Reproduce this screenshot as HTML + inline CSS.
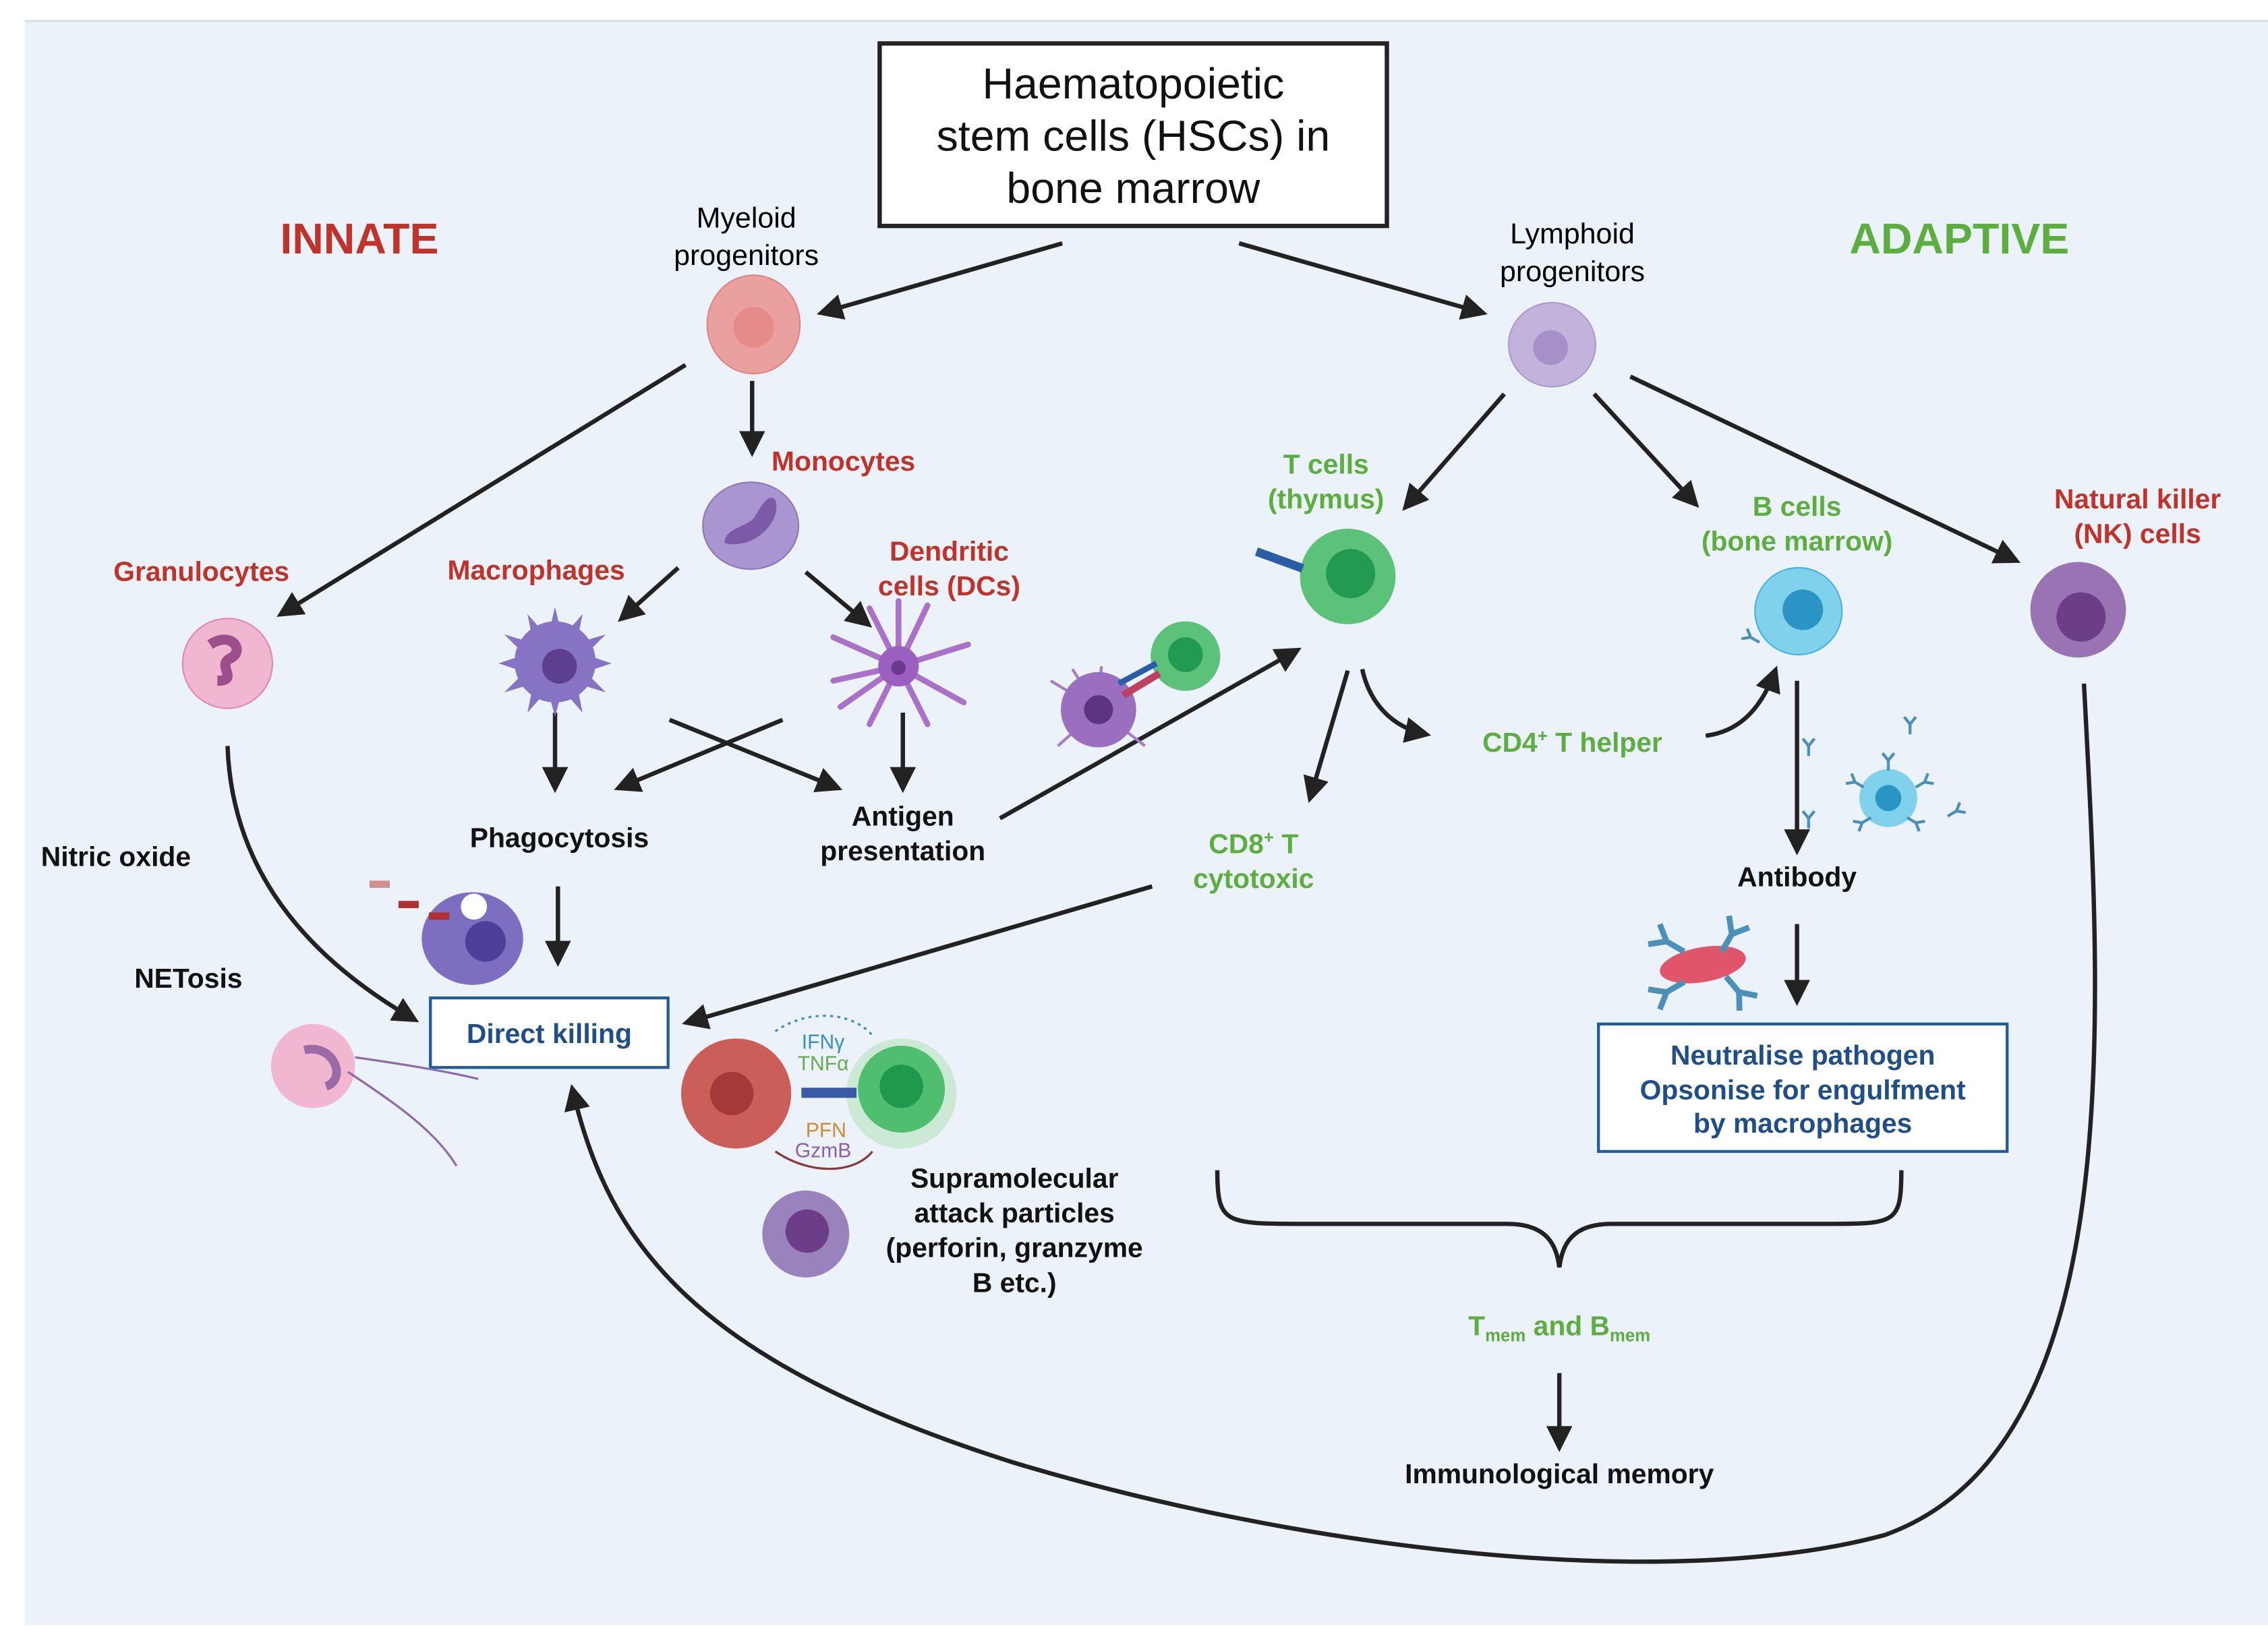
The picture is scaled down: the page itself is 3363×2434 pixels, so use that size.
<!DOCTYPE html>
<html><head><meta charset="utf-8"><style>
html,body{margin:0;padding:0;background:#fff}
svg{display:block}
text{font-family:"Liberation Sans",sans-serif}
.b{font-weight:bold;font-size:19px;text-anchor:middle}
.r{fill:#c0332b}.g{fill:#5cae3f}.k{fill:#111}.bl{fill:#1f4e89}
</style></head><body>
<svg width="3363" height="2434" viewBox="0 0 1565 1133" preserveAspectRatio="none" xmlns="http://www.w3.org/2000/svg">
<defs>
<marker id="a" viewBox="0 0 10 10" refX="8" refY="5" markerWidth="6" markerHeight="6" orient="auto-start-reverse"><path d="M0,0 L10,5 L0,10 z" fill="#222"/></marker>
<g id="y"><path d="M0,0 L0,7 M0,0 L-4,-5 M0,0 L4,-5" stroke="#4a90b8" stroke-width="2" fill="none"/></g>
</defs>
<rect x="0" y="0" width="1565" height="1133" fill="#fff"/>
<rect x="17" y="14" width="1548" height="1108" fill="#ecf2fa"/>
<line x1="17" y1="14.5" x2="1565" y2="14.5" stroke="#d8dde3" stroke-width="1.5"/>
<rect x="607" y="30" width="350" height="126" fill="#fff" stroke="#222" stroke-width="3"/>
<text x="782" y="68" font-size="30" text-anchor="middle" class="k">Haematopoietic</text>
<text x="782" y="104" font-size="30" text-anchor="middle" class="k">stem cells (HSCs) in</text>
<text x="782" y="140" font-size="30" text-anchor="middle" class="k">bone marrow</text>
<text x="248" y="175" font-size="30" font-weight="bold" text-anchor="middle" class="r">INNATE</text>
<text x="1352" y="175" font-size="30" font-weight="bold" text-anchor="middle" class="g">ADAPTIVE</text>
<text x="515" y="157" font-size="20" text-anchor="middle">Myeloid</text>
<text x="515" y="183" font-size="20" text-anchor="middle">progenitors</text>
<text x="1085" y="168" font-size="20" text-anchor="middle">Lymphoid</text>
<text x="1085" y="194" font-size="20" text-anchor="middle">progenitors</text>
<ellipse cx="520" cy="224" rx="32" ry="34" fill="#eba0a0" stroke="#e08585"/><ellipse cx="520" cy="226" rx="14" ry="14" fill="#e78a8a"/>
<ellipse cx="1071" cy="238" rx="30" ry="29" fill="#c2b3dc" stroke="#ab9acb"/><circle cx="1070" cy="240" r="12" fill="#a590c8"/>
<g stroke="#222" stroke-width="3" fill="none" marker-end="url(#a)">
<line x1="733" y1="168" x2="567" y2="216"/>
<line x1="855" y1="168" x2="1023" y2="216"/>
<line x1="473" y1="252" x2="194" y2="424"/>
<line x1="519" y1="263" x2="519" y2="312"/>
<line x1="1038" y1="272" x2="970" y2="350"/>
<line x1="1100" y1="272" x2="1170" y2="348"/>
<line x1="1125" y1="260" x2="1391" y2="387"/>
<line x1="468" y1="392" x2="429" y2="427"/>
<line x1="556" y1="395" x2="599" y2="431"/>
<line x1="383" y1="492" x2="383" y2="544"/>
<line x1="623" y1="492" x2="623" y2="544"/>
<line x1="462" y1="497" x2="578" y2="544"/>
<line x1="540" y1="497" x2="427" y2="544"/>
<line x1="385" y1="612" x2="385" y2="664"/>
<path d="M157,515 C160,600 210,660 286,704"/>
<line x1="690" y1="565" x2="895" y2="449"/>
<line x1="930" y1="463" x2="904" y2="551"/>
<path d="M940,462 C945,485 960,502 984,507"/>
<path d="M1177,508 C1200,505 1215,490 1225,463"/>
<line x1="795" y1="612" x2="474" y2="706"/>
<line x1="1240" y1="470" x2="1240" y2="587"/>
<line x1="1240" y1="638" x2="1240" y2="691"/>
<line x1="1076" y1="948" x2="1076" y2="999"/>
<path d="M1438,472 C1450,700 1470,1000 1300,1060 C1150,1100 900,1070 700,1010 C480,940 420,860 395,752"/>
</g>
<path d="M840,808 C840,845 845,845 900,845 L1040,845 C1068,845 1074,860 1076,875 C1078,860 1084,845 1112,845 L1260,845 C1308,845 1312,845 1312,808" fill="none" stroke="#222" stroke-width="3"/>
<text x="582" y="325" class="b r">Monocytes</text>
<text x="370" y="400" class="b r">Macrophages</text>
<text x="655" y="387" class="b r">Dendritic</text><text x="655" y="411" class="b r">cells (DCs)</text>
<text x="139" y="401" class="b r">Granulocytes</text>
<text x="915" y="327" class="b g">T cells</text><text x="915" y="351" class="b g">(thymus)</text>
<text x="1240" y="356" class="b g">B cells</text><text x="1240" y="380" class="b g">(bone marrow)</text>
<text x="1475" y="351" class="b r">Natural killer</text><text x="1475" y="375" class="b r">(NK) cells</text>
<text x="386" y="585" class="b k">Phagocytosis</text>
<text x="623" y="570" class="b k">Antigen</text><text x="623" y="594" class="b k">presentation</text>
<text x="80" y="598" class="b k">Nitric oxide</text>
<text x="130" y="682" class="b k">NETosis</text>
<text x="1085" y="519" class="b g">CD4<tspan font-size="12" dy="-7">+</tspan><tspan dy="7"> T helper</tspan></text>
<text x="865" y="589" class="b g">CD8<tspan font-size="12" dy="-7">+</tspan><tspan dy="7"> T</tspan></text><text x="865" y="613" class="b g">cytotoxic</text>
<text x="1240" y="612" class="b k">Antibody</text>
<text x="700" y="820" class="b k">Supramolecular</text><text x="700" y="844" class="b k">attack particles</text><text x="700" y="868" class="b k">(perforin, granzyme</text><text x="700" y="892" class="b k">B etc.)</text>
<text x="1076" y="922" class="b g">T<tspan font-size="12" dy="4">mem</tspan><tspan dy="-4"> and B</tspan><tspan font-size="12" dy="4">mem</tspan></text>
<text x="1076" y="1024" class="b k">Immunological memory</text>
<rect x="297" y="689" width="164" height="48" fill="#fff" stroke="#1f5c99" stroke-width="2"/>
<text x="379" y="720" class="b bl">Direct killing</text>
<rect x="1103" y="707" width="282" height="88" fill="#fff" stroke="#1f5c99" stroke-width="2"/>
<text x="1244" y="735" class="b bl">Neutralise pathogen</text><text x="1244" y="759" class="b bl">Opsonise for engulfment</text><text x="1244" y="782" class="b bl">by macrophages</text>
<!-- cells -->
<ellipse cx="518" cy="363" rx="33" ry="30" fill="#a995cf" stroke="#8e78bb"/><path d="M500,375 C520,380 540,360 535,345 C530,340 525,350 520,358 C512,365 500,365 500,375z" fill="#7d5aa8"/>
<g fill="#8673c4"><circle cx="383" cy="457" r="28"/>
<path d="M383,419 L388,440 L402,424 L398,444 L418,438 L404,452 L422,458 L404,464 L418,478 L398,472 L402,492 L388,476 L383,495 L378,476 L364,492 L368,472 L348,478 L362,464 L344,458 L362,452 L348,438 L368,444 L364,424 L378,440z"/></g><circle cx="386" cy="460" r="12" fill="#5c3f8f"/>
<g stroke="#a972c8" stroke-width="4" fill="none" stroke-linecap="round"><path d="M620,460 L600,420 M620,460 L640,418 M620,460 L575,440 M620,460 L668,445 M620,460 L575,470 M620,460 L665,485 M620,460 L600,500 M620,460 L640,500 M620,460 L620,415 M620,460 L580,488"/></g><circle cx="620" cy="460" r="14" fill="#9b5fbf"/><circle cx="620" cy="461" r="5" fill="#6a3b8c"/>
<circle cx="157" cy="458" r="31" fill="#f1b6d0" stroke="#e08ab0"/><path d="M145,445 C160,435 170,450 158,455 C150,460 165,470 150,470" stroke="#9c4f8a" stroke-width="7" fill="none"/>
<circle cx="930" cy="398" r="33" fill="#5cc279"/><circle cx="932" cy="396" r="17" fill="#239a52"/>
<rect x="868" y="378" width="34" height="6" fill="#2a5da8" transform="rotate(20 868 378)"/>
<circle cx="1241" cy="422" r="30" fill="#7fd1ec" stroke="#47b3dc"/><circle cx="1244" cy="421" r="14" fill="#2a95c4"/>
<use href="#y" transform="translate(1208,440) rotate(-60)"/>
<circle cx="1434" cy="421" r="33" fill="#9a73b4"/><circle cx="1436" cy="426" r="17" fill="#6c3e8a"/>
<circle cx="818" cy="453" r="24" fill="#5cc279"/><circle cx="818" cy="452" r="12" fill="#239a52"/>
<g stroke="#a87cc8" stroke-width="2"><path d="M758,490 L725,470 M758,490 L730,515 M758,490 L760,460 M758,490 L790,515 M758,490 L740,462"/></g>
<circle cx="758" cy="490" r="26" fill="#9b6fc0"/><circle cx="758" cy="490" r="10" fill="#5c3580"/>
<path d="M775,480 L800,465" stroke="#c04060" stroke-width="5"/><path d="M772,472 L798,458" stroke="#2a5da8" stroke-width="4"/>
<circle cx="1303" cy="551" r="20" fill="#7fd1ec"/><circle cx="1303" cy="551" r="9" fill="#2a95c4"/>
<use href="#y" transform="translate(1303,525)"/><use href="#y" transform="translate(1280,540) rotate(-60)"/><use href="#y" transform="translate(1328,540) rotate(60)"/><use href="#y" transform="translate(1285,568) rotate(-120)"/><use href="#y" transform="translate(1322,568) rotate(120)"/>
<use href="#y" transform="translate(1318,500)"/><use href="#y" transform="translate(1248,515)"/><use href="#y" transform="translate(1248,565)"/><use href="#y" transform="translate(1350,560) rotate(60)"/>
<ellipse cx="1175" cy="666" rx="30" ry="12" fill="#e0556a" transform="rotate(-10 1175 666)"/>
<use href="#y" transform="translate(1150,650) rotate(-60) scale(2)"/><use href="#y" transform="translate(1195,645) rotate(30) scale(2)"/><use href="#y" transform="translate(1150,685) rotate(-120) scale(2)"/><use href="#y" transform="translate(1200,685) rotate(140) scale(2)"/>
<ellipse cx="326" cy="648" rx="35" ry="32" fill="#7d6ec2"/><circle cx="335" cy="650" r="14" fill="#4f3f9a"/><circle cx="327" cy="626" r="9" fill="#fff"/>
<rect x="255" y="608" width="14" height="5" fill="#d09090"/><rect x="275" y="622" width="14" height="5" fill="#b03030"/><rect x="296" y="630" width="14" height="5" fill="#b03030"/>
<circle cx="216" cy="736" r="29" fill="#f1b6d0"/><path d="M210,725 C230,720 240,745 225,750" stroke="#9c6aa6" stroke-width="6" fill="none"/>
<path d="M240,740 C270,760 300,780 315,805 M245,730 C280,735 310,740 330,745" stroke="#8d6aa8" stroke-width="1.5" fill="none"/>
<circle cx="508" cy="755" r="38" fill="#cc5e5a"/><circle cx="505" cy="755" r="15" fill="#a53838"/>
<circle cx="622" cy="755" r="38" fill="#bfe6c6" opacity="0.7"/><circle cx="622" cy="752" r="30" fill="#4fbf6f"/><circle cx="622" cy="750" r="15" fill="#1f9a4c"/>
<rect x="553" y="751" width="38" height="7" fill="#3a5aa8"/>
<path d="M535,712 C560,695 590,700 602,715" stroke="#3a8ec8" stroke-width="1.5" fill="none" stroke-dasharray="2,3"/>
<path d="M535,795 C560,812 590,810 602,795" stroke="#8a3a3a" stroke-width="1.5" fill="none"/>
<text x="568" y="724" font-size="14" fill="#3a8ec8" text-anchor="middle">IFNγ</text><text x="568" y="739" font-size="14" fill="#6aaa50" text-anchor="middle">TNFα</text>
<text x="570" y="785" font-size="14" fill="#d08a30" text-anchor="middle">PFN</text><text x="568" y="799" font-size="14" fill="#8a5fb0" text-anchor="middle">GzmB</text>
<circle cx="556" cy="852" r="30" fill="#9a83bd"/><circle cx="557" cy="850" r="15" fill="#6c3e8a"/>
</svg>
</body></html>
